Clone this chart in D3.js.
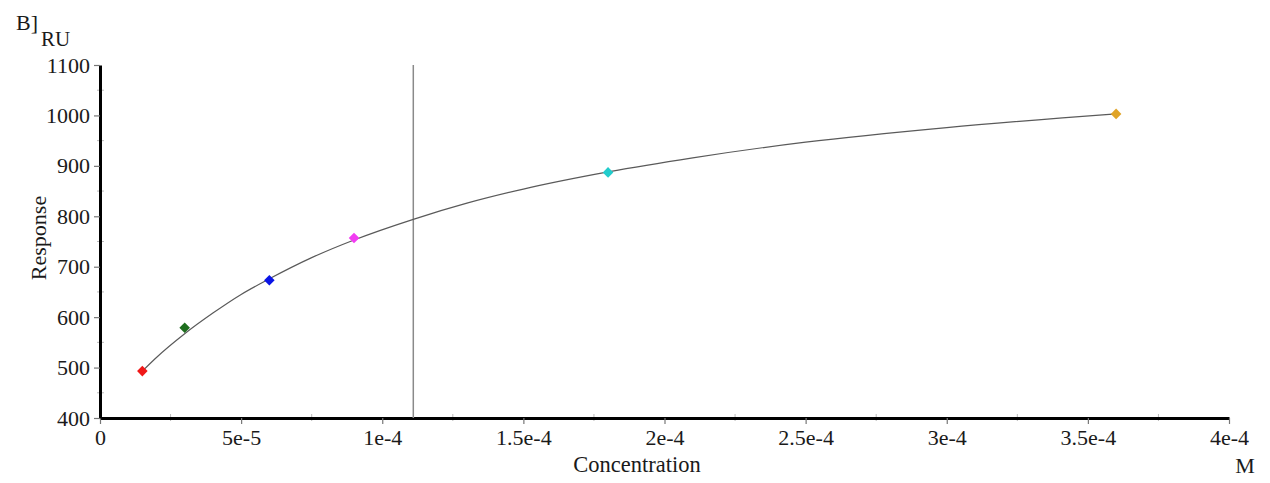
<!DOCTYPE html>
<html><head><meta charset="utf-8">
<script src="https://cdn.jsdelivr.net/npm/d3@7"></script>
<style>body{margin:0;background:#fff}svg{display:block}text{font-family:"Liberation Serif","Times New Roman",serif;fill:#1a1a1a}</style>
</head><body><svg id="c" width="1270" height="483"></svg>
<script>
// Measured points
const concentrations = [1.5e-5, 3e-5, 6e-5, 9e-5, 1.8e-4, 3.6e-4];
const responses = [493, 579, 673, 757, 887, 1003];
const pointColors = ["#f01818", "#1e6e1e", "#0a14e6", "#f23cf2", "#22cccc", "#e0a428"];
// Fitted curve
const curveConc = [1.5e-5, 2e-5, 3e-5, 4e-5, 5e-5, 6e-5, 7.5e-5, 9e-5, 1.11e-4, 1.3e-4, 1.5e-4, 1.8e-4, 2.1e-4, 2.5e-4, 3e-4, 3.6e-4];
const curveResp = [493, 520, 567, 608, 645, 676, 718, 753, 794, 826, 854, 888, 916, 947, 976, 1003];
const kdLine = [1.11e-4];
const xTicks = [0, 5e-5, 1e-4, 1.5e-4, 2e-4, 2.5e-4, 3e-4, 3.5e-4, 4e-4];
const xTickLabels = ["0", "5e-5", "1e-4", "1.5e-4", "2e-4", "2.5e-4", "3e-4", "3.5e-4", "4e-4"];
const yTicks = [400, 500, 600, 700, 800, 900, 1000, 1100];

const svg = d3.select("#c");
const x = d3.scaleLinear().domain([0, 4e-4]).range([100, 1229]);
const y = d3.scaleLinear().domain([400, 1100]).range([418, 65]);

// minor ticks
const xMinor = d3.range(0, 8).map(i => 2.5e-5 + i * 5e-5);
const yMinor = d3.range(0, 7).map(i => 450 + i * 100);
svg.append("g").selectAll("line").data(xMinor).join("line")
  .attr("x1", d => x(d)).attr("x2", d => x(d)).attr("y1", 414).attr("y2", 421)
  .attr("stroke", "#bbb").attr("stroke-width", 1);
svg.append("g").selectAll("line").data(yMinor).join("line")
  .attr("y1", d => y(d)).attr("y2", d => y(d)).attr("x1", 97).attr("x2", 104)
  .attr("stroke", "#bbb").attr("stroke-width", 1);

// axes
const xAxis = d3.axisBottom(x).tickValues(xTicks).tickFormat((d, i) => xTickLabels[i]).tickSize(6).tickSizeOuter(0);
const gx = svg.append("g").attr("transform", "translate(0,418)").call(xAxis);
gx.select(".domain").attr("stroke", "#000").attr("stroke-width", 3);
gx.selectAll(".tick line").attr("stroke", "#777").attr("stroke-width", 1.2);
gx.selectAll(".tick text").attr("font-size", 22).attr("font-family", "Liberation Serif").attr("fill", "#1a1a1a").attr("dy", "0.85em").attr("y", 8);

const yAxis = d3.axisLeft(y).tickValues(yTicks).tickFormat(d3.format("d")).tickSize(6).tickSizeOuter(0);
const gy = svg.append("g").attr("transform", "translate(100,0)").call(yAxis);
gy.select(".domain").attr("stroke", "#000").attr("stroke-width", 3);
gy.selectAll(".tick line").attr("stroke", "#777").attr("stroke-width", 1.2);
gy.selectAll(".tick text").attr("font-size", 22).attr("font-family", "Liberation Serif").attr("fill", "#1a1a1a").attr("x", -10);

// KD vertical line
svg.append("g").selectAll("line").data(kdLine).join("line")
  .attr("x1", d => x(d)).attr("x2", d => x(d)).attr("y1", y(1100)).attr("y2", y(400))
  .attr("stroke", "#8a8a8a").attr("stroke-width", 1.5);

// fitted curve
const pts = curveConc.map((c, i) => [c, curveResp[i]]);
svg.append("path").datum(pts)
  .attr("d", d3.line().x(d => x(d[0])).y(d => y(d[1])).curve(d3.curveMonotoneX))
  .attr("fill", "none").attr("stroke", "#5a5a5a").attr("stroke-width", 1.2);

// points
const sym = d3.symbol().type(d3.symbolSquare).size(56);
svg.append("g").selectAll("path").data(concentrations).join("path")
  .attr("d", sym)
  .attr("transform", (d, i) => `translate(${x(d)},${y(responses[i])}) rotate(45)`)
  .attr("fill", (d, i) => pointColors[i]);

// labels
svg.append("text").attr("x", 16).attr("y", 30).attr("font-size", 22).text("B]");
svg.append("text").attr("x", 41).attr("y", 46).attr("font-size", 21).text("RU");
svg.append("text").attr("x", 637).attr("y", 472).attr("text-anchor", "middle").attr("font-size", 22.5).text("Concentration");
svg.append("text").attr("x", 1245).attr("y", 473).attr("text-anchor", "middle").attr("font-size", 22).text("M");
svg.append("text").attr("transform", "translate(46,238) rotate(-90)").attr("text-anchor", "middle").attr("font-size", 22).text("Response");
</script></body></html>
